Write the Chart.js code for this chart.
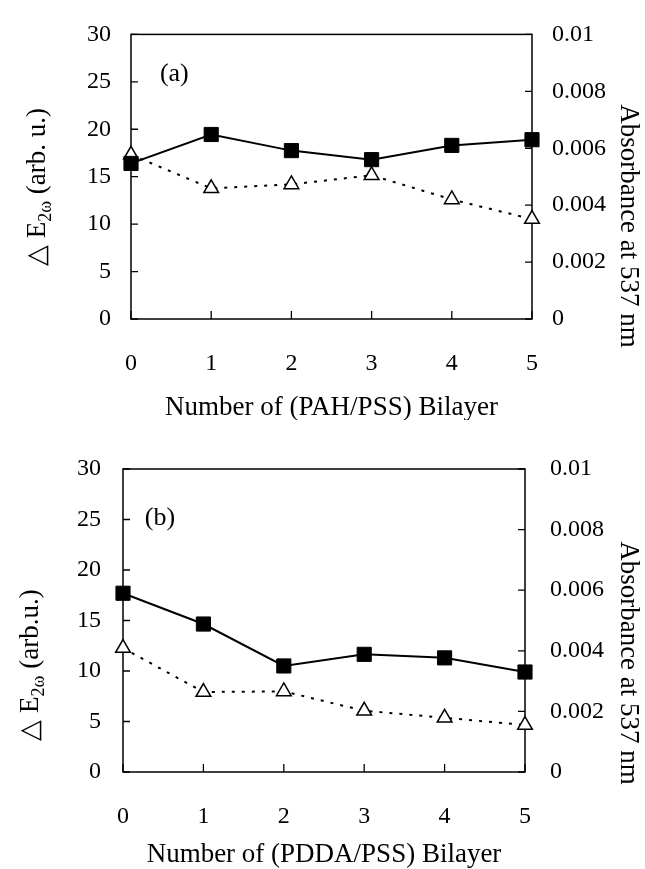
<!DOCTYPE html>
<html><head><meta charset="utf-8">
<script src="https://cdn.jsdelivr.net/npm/chart.js@4"></script>
<style>
html,body{margin:0;padding:0;background:#fff;}
#wrap{position:relative;width:645px;height:869px;overflow:hidden;}
.c{position:absolute;left:0;width:645px;}
</style></head>
<body><div id="wrap">
<div class="c" style="top:0;height:420px"><canvas id="ca"></canvas></div>
<div class="c" style="top:420px;height:449px"><canvas id="cb"></canvas></div>
</div>
<script>
// ---- data ----
const bilayers = [0, 1, 2, 3, 4, 5];
const shgA = [16.4, 19.45, 17.75, 16.8, 18.3, 18.9];          // ΔE2ω (arb. u.), panel (a)
const absA = [0.00577, 0.00459, 0.00473, 0.00505, 0.0042, 0.00351]; // absorbance, panel (a)
const shgB = [17.7, 14.65, 10.5, 11.65, 11.3, 9.9];            // panel (b)
const absB = [0.00409, 0.00264, 0.00266, 0.00202, 0.00179, 0.00155];
const leftTicks = [0, 5, 10, 15, 20, 25, 30];
const rightTicks = [0, 0.002, 0.004, 0.006, 0.008, 0.01];
const rightTickLabels = ['0', '0.002', '0.004', '0.006', '0.008', '0.01'];
const xTicks = [0, 1, 2, 3, 4, 5];
const xTitleA = 'Number of (PAH/PSS) Bilayer';
const xTitleB = 'Number of (PDDA/PSS) Bilayer';
const rightTitle = 'Absorbance at 537 nm';
const leftTitleA = ['△ E', '2ω', ' (arb. u.)'];
const leftTitleB = ['△ E', '2ω', ' (arb.u.)'];

const FONT = "'Liberation Serif','Times New Roman',serif";

const framePlugin = {
  id: 'frame',
  beforeDatasetsDraw(chart) {
    const {ctx, chartArea: a, scales} = chart;
    ctx.save();
    ctx.strokeStyle = '#000';
    ctx.lineWidth = 1.5;
    ctx.strokeRect(a.left, a.top, a.right - a.left, a.bottom - a.top);
    ctx.lineWidth = 1.3;
    ctx.beginPath();
    scales.y.ticks.forEach(t => { const p = scales.y.getPixelForValue(t.value); ctx.moveTo(a.left, p); ctx.lineTo(a.left + 7, p); });
    scales.y1.ticks.forEach(t => { const p = scales.y1.getPixelForValue(t.value); ctx.moveTo(a.right, p); ctx.lineTo(a.right - 7, p); });
    scales.x.ticks.forEach(t => { const p = scales.x.getPixelForValue(t.value); ctx.moveTo(p, a.bottom); ctx.lineTo(p, a.bottom - 8); });
    ctx.stroke();
    ctx.restore();
  },
  afterDraw(chart, args, o) {
    const {ctx, chartArea: a, scales} = chart;
    ctx.save();
    ctx.fillStyle = '#000';
    // x title
    ctx.font = `27px ${FONT}`;
    ctx.textAlign = 'center';
    ctx.textBaseline = 'middle';
    ctx.fillText(o.xTitle, (a.left + a.right) / 2, o.xTitleY);
    // right title (reads top to bottom)
    ctx.save();
    ctx.translate(o.rightX, o.rightY);
    ctx.rotate(Math.PI / 2);
    ctx.fillText(o.rightTitle, 0, 0);
    ctx.restore();
    // left title with subscript
    ctx.save();
    ctx.translate(o.leftX, o.leftY);
    ctx.rotate(-Math.PI / 2);
    ctx.textAlign = 'left';
    ctx.textBaseline = 'alphabetic';
    const parts = [
      {t: o.leftTitle[0], f: `27px ${FONT}`, dy: 9},
      {t: o.leftTitle[1], f: `18px ${FONT}`, dy: 15},
      {t: o.leftTitle[2], f: `27px ${FONT}`, dy: 9}
    ];
    let total = 0;
    parts.forEach(p => { ctx.font = p.f; p.w = ctx.measureText(p.t).width; total += p.w; });
    let x = -total / 2;
    parts.forEach(p => { ctx.font = p.f; ctx.fillText(p.t, x, p.dy); x += p.w; });
    ctx.restore();
    // panel label
    ctx.font = `26px ${FONT}`;
    ctx.textAlign = 'center';
    ctx.textBaseline = 'middle';
    ctx.fillText(o.panel, scales.x.getPixelForValue(o.panelX), scales.y.getPixelForValue(o.panelY));
    ctx.restore();
  }
};

function makeChart(id, shg, abs, dims, titles) {
  const tickFont = {family: FONT, size: 24};
  return new Chart(document.getElementById(id), {
    type: 'line',
    data: {
      datasets: [
        {
          data: bilayers.map((b, i) => ({x: b, y: shg[i]})),
          yAxisID: 'y',
          borderColor: '#000', borderWidth: 2,
          pointStyle: 'rect', pointRadius: 10, pointHoverRadius: 10,
          pointBackgroundColor: '#000', pointBorderColor: '#000', pointBorderWidth: 1,
          tension: 0, clip: false
        },
        {
          data: bilayers.map((b, i) => ({x: b, y: abs[i]})),
          yAxisID: 'y1',
          borderColor: '#000', borderWidth: 2, borderDash: [3, 7],
          pointStyle: 'triangle', pointRadius: 8.5, pointHoverRadius: 8.5,
          pointBackgroundColor: '#fff', pointBorderColor: '#000', pointBorderWidth: 1.5,
          tension: 0, clip: false
        }
      ]
    },
    options: {
      responsive: true, maintainAspectRatio: false, animation: false,
      devicePixelRatio: 1,
      layout: {padding: {top: dims.top, left: 0, right: 0, bottom: 0}},
      plugins: {
        legend: {display: false}, tooltip: {enabled: false},
        frame: titles
      },
      scales: {
        x: {
          type: 'linear', min: 0, max: 5,
          afterBuildTicks: s => { s.ticks = xTicks.map(v => ({value: v})); },
          ticks: {color: '#000', font: tickFont, padding: dims.xPad},
          grid: {display: false, drawTicks: false},
          border: {display: false},
          afterFit: s => { s.height = dims.xH; }
        },
        y: {
          position: 'left', min: 0, max: 30,
          afterBuildTicks: s => { s.ticks = leftTicks.map(v => ({value: v})); },
          ticks: {color: '#000', font: tickFont, padding: dims.lPad},
          grid: {display: false, drawTicks: false},
          border: {display: false},
          afterFit: s => { s.width = dims.lW; }
        },
        y1: {
          position: 'right', min: 0, max: 0.01,
          afterBuildTicks: s => { s.ticks = rightTicks.map(v => ({value: v})); },
          ticks: {color: '#000', font: tickFont, padding: dims.rPad,
                  callback: (v, i) => rightTickLabels[i]},
          grid: {display: false, drawTicks: false},
          border: {display: false},
          afterFit: s => { s.width = dims.rW; }
        }
      }
    },
    plugins: [framePlugin]
  });
}

makeChart('ca', shgA, absA,
  {top: 26, lW: 131, rW: 113, xH: 101, xPad: 30, lPad: 20, rPad: 20},
  {xTitle: xTitleA, xTitleY: 408, rightTitle: rightTitle, rightX: 628, rightY: 226,
   leftTitle: leftTitleA, leftX: 36, leftY: 187, panel: '(a)', panelX: 0.54, panelY: 25.8});

makeChart('cb', shgB, absB,
  {top: 49, lW: 123, rW: 120, xH: 97, xPad: 30, lPad: 22, rPad: 25},
  {xTitle: xTitleB, xTitleY: 435, rightTitle: rightTitle, rightX: 628, rightY: 243,
   leftTitle: leftTitleB, leftX: 29, leftY: 245, panel: '(b)', panelX: 0.46, panelY: 25.1});
</script>
</body></html>
